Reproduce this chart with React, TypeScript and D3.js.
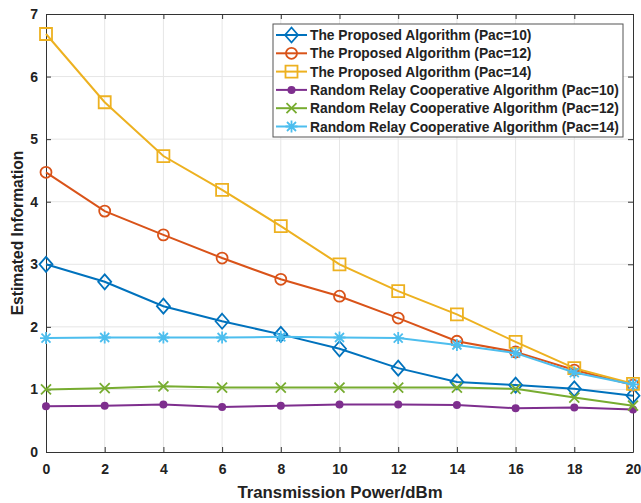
import * as d3 from "d3";
import { useEffect, useRef } from "react";

const powers = [0, 2, 4, 6, 8, 10, 12, 14, 16, 18, 20];

const proposed10 = [3.0, 2.72, 2.33, 2.09, 1.88, 1.65, 1.34, 1.12, 1.07, 1.01, 0.9];
const proposed12 = [4.47, 3.85, 3.47, 3.1, 2.76, 2.49, 2.14, 1.77, 1.6, 1.31, 1.07];
const proposed14 = [6.68, 5.59, 4.73, 4.19, 3.61, 3.0, 2.57, 2.2, 1.76, 1.34, 1.09];
const random10 = [0.73, 0.74, 0.76, 0.72, 0.74, 0.76, 0.76, 0.75, 0.7, 0.71, 0.68];
const random12 = [1.0, 1.02, 1.05, 1.03, 1.03, 1.03, 1.03, 1.03, 1.01, 0.87, 0.74];
const random14 = [1.82, 1.83, 1.83, 1.83, 1.84, 1.83, 1.82, 1.71, 1.58, 1.27, 1.08];

const seriesNames = [
  "The Proposed Algorithm (Pac=10)",
  "The Proposed Algorithm (Pac=12)",
  "The Proposed Algorithm (Pac=14)",
  "Random Relay Cooperative Algorithm (Pac=10)",
  "Random Relay Cooperative Algorithm (Pac=12)",
  "Random Relay Cooperative Algorithm (Pac=14)",
];
const seriesColors = ["#0072BD", "#D95319", "#EDB120", "#7E2F8E", "#77AC30", "#4DBEEE"];
const seriesMarkers = ["diamond", "circle", "square", "dot", "x", "star"];

const xTicks = [0, 2, 4, 6, 8, 10, 12, 14, 16, 18, 20];
const yTicks = [0, 1, 2, 3, 4, 5, 6, 7];

function markerPath(kind: string): string {
  switch (kind) {
    case "diamond":
      return "M0,-7.5L6.5,0L0,7.5L-6.5,0Z";
    case "square":
      return "M-6,-6H6V6H-6Z";
    case "x":
      return "M-5,-5L5,5M-5,5L5,-5";
    case "star":
      return "M-6,0H6M0,-6V6M-4.5,-4.5L4.5,4.5M-4.5,4.5L4.5,-4.5";
    default:
      return "";
  }
}

export default function App() {
  const svgRef = useRef<SVGSVGElement>(null);

  useEffect(() => {
    if (!svgRef.current) return;
    const svg = d3.select(svgRef.current);
    svg.selectAll("*").remove();

    const left = 46;
    const right = 633;
    const top = 14;
    const bottom = 452;
    const font = "'Liberation Sans', Arial, sans-serif";
    const axisColor = "#333";

    const x = d3.scaleLinear().domain([0, 20]).range([left, right]);
    const y = d3.scaleLinear().domain([0, 7]).range([bottom, top]);

    svg.append("rect").attr("width", 641).attr("height", 503).attr("fill", "#fff");

    // grid
    const grid = svg.append("g").attr("stroke", "#e6e6e6").attr("stroke-width", 1);
    grid
      .selectAll("line.v")
      .data(xTicks.slice(1, -1))
      .enter()
      .append("line")
      .attr("x1", (d) => x(d))
      .attr("x2", (d) => x(d))
      .attr("y1", top)
      .attr("y2", bottom);
    grid
      .selectAll("line.h")
      .data(yTicks.slice(1, -1))
      .enter()
      .append("line")
      .attr("x1", left)
      .attr("x2", right)
      .attr("y1", (d) => y(d))
      .attr("y2", (d) => y(d));

    // axes
    const xAxis = svg
      .append("g")
      .attr("transform", `translate(0,${bottom})`)
      .call(
        d3.axisBottom(x).tickValues(xTicks).tickFormat(d3.format("d")).tickSizeInner(-5).tickSizeOuter(0).tickPadding(12),
      );
    const yAxis = svg
      .append("g")
      .attr("transform", `translate(${left},0)`)
      .call(
        d3.axisLeft(y).tickValues(yTicks).tickFormat(d3.format("d")).tickSizeInner(-5).tickSizeOuter(0).tickPadding(8),
      );
    const xTop = svg
      .append("g")
      .attr("transform", `translate(0,${top})`)
      .call(d3.axisTop(x).tickValues(xTicks).tickSizeInner(-5).tickSizeOuter(0).tickFormat(() => ""));
    const yRight = svg
      .append("g")
      .attr("transform", `translate(${right},0)`)
      .call(d3.axisRight(y).tickValues(yTicks).tickSizeInner(-5).tickSizeOuter(0).tickFormat(() => ""));

    [xAxis, yAxis, xTop, yRight].forEach((a) => {
      a.selectAll("path").attr("stroke", axisColor).attr("stroke-width", 1);
      a.selectAll("line").attr("stroke", axisColor);
      a.selectAll("text")
        .attr("fill", "#222")
        .style("font-family", font)
        .style("font-weight", "bold")
        .style("font-size", "14px");
    });

    // series
    const allSeries = [proposed10, proposed12, proposed14, random10, random12, random14];
    const line = d3
      .line<number>()
      .x((_, i) => x(powers[i]))
      .y((d) => y(d));

    const drawMarker = (
      g: d3.Selection<SVGGElement, unknown, null, undefined>,
      kind: string,
      color: string,
      cx: number,
      cy: number,
    ) => {
      if (kind === "circle") {
        g.append("circle")
          .attr("cx", cx)
          .attr("cy", cy)
          .attr("r", 5.5)
          .attr("fill", "none")
          .attr("stroke", color)
          .attr("stroke-width", 1.8);
      } else if (kind === "dot") {
        g.append("circle").attr("cx", cx).attr("cy", cy).attr("r", 4).attr("fill", color);
      } else {
        g.append("path")
          .attr("d", markerPath(kind))
          .attr("transform", `translate(${cx},${cy})`)
          .attr("fill", "none")
          .attr("stroke", color)
          .attr("stroke-width", 1.8);
      }
    };

    allSeries.forEach((vals, s) => {
      const g = svg.append("g");
      g.append("path")
        .datum(vals)
        .attr("d", line)
        .attr("fill", "none")
        .attr("stroke", seriesColors[s])
        .attr("stroke-width", 2);
      vals.forEach((v, i) => drawMarker(g, seriesMarkers[s], seriesColors[s], x(powers[i]), y(v)));
    });

    // legend
    const lx = 273;
    const ly = 24;
    const lw = 350;
    const lh = 113;
    const legend = svg.append("g");
    legend
      .append("rect")
      .attr("x", lx)
      .attr("y", ly)
      .attr("width", lw)
      .attr("height", lh)
      .attr("fill", "#fff")
      .attr("stroke", "#555")
      .attr("stroke-width", 1);
    seriesNames.forEach((name, s) => {
      const cy = ly + 11 + s * 18.3;
      const row = legend.append("g");
      row.append("line")
        .attr("x1", lx + 3)
        .attr("x2", lx + 34)
        .attr("y1", cy)
        .attr("y2", cy)
        .attr("stroke", seriesColors[s])
        .attr("stroke-width", 2);
      drawMarker(row, seriesMarkers[s], seriesColors[s], lx + 18.5, cy);
      row.append("text")
        .attr("x", lx + 37)
        .attr("y", cy + 5)
        .attr("fill", "#222")
        .style("font-family", font)
        .style("font-weight", "bold")
        .style("font-size", "13.8px")
        .text(name);
    });

    // axis titles
    svg.append("text")
      .attr("x", 340)
      .attr("y", 498)
      .attr("text-anchor", "middle")
      .attr("fill", "#222")
      .style("font-family", font)
      .style("font-weight", "bold")
      .style("font-size", "16.8px")
      .text("Transmission Power/dBm");
    svg.append("text")
      .attr("transform", `translate(23,${(top + bottom) / 2}) rotate(-90)`)
      .attr("text-anchor", "middle")
      .attr("fill", "#222")
      .style("font-family", font)
      .style("font-weight", "bold")
      .style("font-size", "15.6px")
      .text("Estimated Information");
  }, []);

  return (
    <svg
      ref={svgRef}
      width={641}
      height={503}
      style={{ position: "absolute", left: 0, top: 0 }}
    />
  );
}
